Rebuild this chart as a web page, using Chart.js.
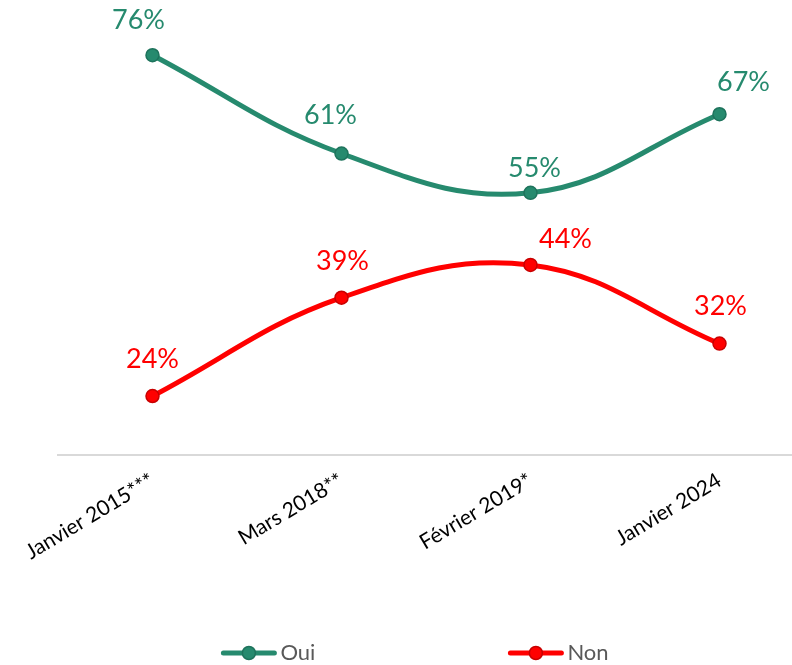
<!DOCTYPE html>
<html>
<head>
<meta charset="utf-8">
<script src="https://cdn.jsdelivr.net/npm/chart.js@4.4.1/dist/chart.umd.min.js"></script>
<style>
  html, body { margin: 0; padding: 0; background: #fff; overflow: hidden; }
  #wrap { width: 830px; height: 665px; }
</style>
</head>
<body>
<div id="wrap"><canvas id="myChartLine"></canvas></div>
<script>
const categories = ['Janvier 2015***', 'Mars 2018**', 'Février 2019*', 'Janvier 2024'];
const ouiValues = [76, 61, 55, 67];
const nonValues = [24, 39, 44, 32];

const GREEN = 'rgb(38, 138, 110)';
const RED = 'rgb(255, 0, 0)';

// label nudges (dx, dy above the point), like the original placement
const ouiLabelShift = [[-14, 35], [-11, 38], [4, 25], [24, 32]];
const nonLabelShift = [[0, 37], [1, 36], [35, 26], [1, 37]];

const dataLabels = {
	id: 'dataLabels',
	afterDatasetsDraw(chart) {
		const ctx = chart.ctx;
		ctx.save();
		ctx.font = '27px Lato';
		ctx.textAlign = 'center';
		ctx.textBaseline = 'middle';
		chart.data.datasets.forEach((ds, i) => {
			const meta = chart.getDatasetMeta(i);
			ctx.fillStyle = ds.borderColor;
			meta.data.forEach((pt, j) => {
				const s = ds.labelShift[j];
				ctx.fillText(ds.data[j] + '%', pt.x + s[0], pt.y - s[1]);
			});
		});
		ctx.restore();
	}
};

// line + dot legend at the bottom, wide gap between the two entries
const lineLegend = {
	id: 'lineLegend',
	afterDraw(chart) {
		const ctx = chart.ctx;
		const iconW = 55, gap = 4, between = 193, y = 653;
		ctx.save();
		ctx.font = '22px Lato';
		ctx.textBaseline = 'middle';
		const items = chart.data.datasets.map(ds => ({ ds, tw: ctx.measureText(ds.label).width }));
		let total = items.reduce((a, it) => a + iconW + gap + it.tw, 0) + between * (items.length - 1);
		let x = chart.width / 2 - total / 2;
		items.forEach(({ ds, tw }) => {
			ctx.strokeStyle = ds.borderColor;
			ctx.lineWidth = 5;
			ctx.lineCap = 'round';
			ctx.beginPath();
			ctx.moveTo(x + 2, y);
			ctx.lineTo(x + iconW - 2, y);
			ctx.stroke();
			ctx.fillStyle = ds.borderColor;
			ctx.strokeStyle = ds.pointBorderColor;
			ctx.lineWidth = 1.5;
			ctx.beginPath();
			ctx.arc(x + iconW / 2, y, 6.5, 0, Math.PI * 2);
			ctx.fill();
			ctx.stroke();
			ctx.fillStyle = '#595959';
			ctx.fillText(ds.label, x + iconW + gap, y);
			x += iconW + gap + tw + between;
		});
		ctx.restore();
	}
};

new Chart('myChartLine', {
	type: 'line',
	data: {
		labels: categories,
		datasets: [{
			label: 'Oui',
			data: ouiValues,
			borderColor: GREEN,
			backgroundColor: GREEN,
			pointBorderColor: 'rgb(30, 115, 92)',
			borderWidth: 5,
			pointRadius: 6.5,
			pointBorderWidth: 1.5,
			tension: 0.4,
			labelShift: ouiLabelShift,
		}, {
			label: 'Non',
			data: nonValues,
			borderColor: RED,
			backgroundColor: RED,
			pointBorderColor: 'rgb(200, 0, 0)',
			borderWidth: 5,
			pointRadius: 6.5,
			pointBorderWidth: 1.5,
			tension: 0.4,
			labelShift: nonLabelShift,
		}]
	},
	options: {
		responsive: true,
		maintainAspectRatio: false,
		animation: false,
		layout: {
			padding: { top: 29, left: 58, right: 16, bottom: 60 }
		},
		scales: {
			x: {
				offset: true,
				grid: { display: false },
				border: { color: '#d9d9d9', width: 2 },
				ticks: {
					color: '#000',
					font: { family: 'Lato', size: 21 },
					minRotation: 31,
					maxRotation: 31,
					padding: 5,
				},
				afterFit(scale) { scale.height = 150; }
			},
			y: {
				display: false,
				min: 15,
				max: 80,
			}
		},
		plugins: {
			legend: { display: false },
			tooltip: { enabled: false }
		}
	},
	plugins: [dataLabels, lineLegend]
});
</script>
</body>
</html>
